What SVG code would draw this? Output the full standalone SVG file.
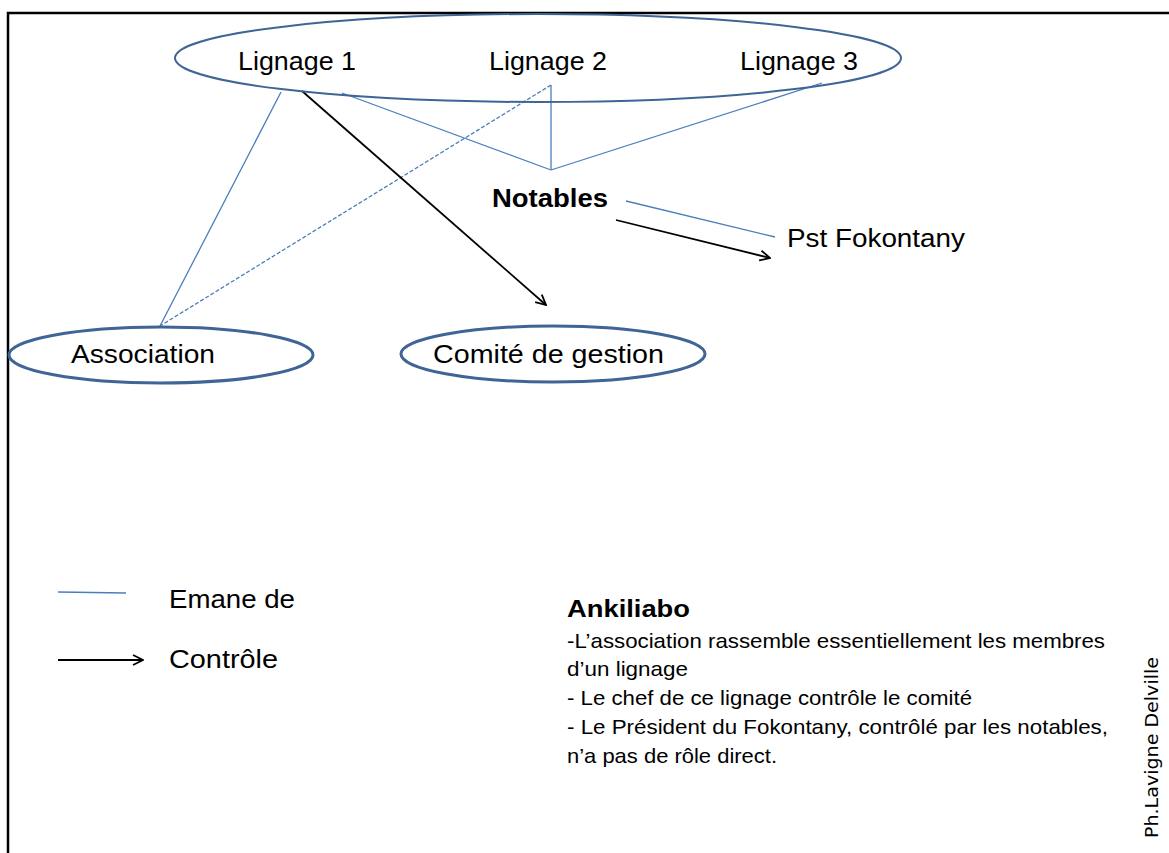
<svg xmlns="http://www.w3.org/2000/svg" width="1169" height="853" viewBox="0 0 1169 853">
  <defs>
    <style>
      .t { font-family: "Liberation Sans", Arial, sans-serif; fill: #000; }
      .lbl { font-size: 26px; }
      .bold { font-weight: bold; }
      .body { font-size: 21px; }
      .node { fill: none; stroke: #3f6596; }
      .emane { stroke: #4a7ebb; stroke-width: 1.3; fill: none; }
      .dash { stroke-dasharray: 4 2; }
      .ctrl { stroke: #000; stroke-width: 1.8; fill: none; }
    </style>
    <marker id="arr" viewBox="0 0 12 12" refX="11" refY="6" markerWidth="12" markerHeight="12" markerUnits="userSpaceOnUse" orient="auto">
      <path d="M1,1 L11,6 L1,11" fill="none" stroke="#000" stroke-width="1.8"/>
    </marker>
  </defs>
  <rect width="1169" height="853" fill="#fff"/>

  <!-- frame -->
  <path d="M8,853 V13 H1169" fill="none" stroke="#000" stroke-width="2.5"/>

  <!-- connectors -->
  <g id="connectors">
    <line class="emane" x1="281" y1="92" x2="160" y2="326"/>
    <line class="emane dash" x1="551" y1="85" x2="160" y2="326"/>
    <line class="emane" x1="551" y1="85" x2="551" y2="170"/>
    <line class="emane" x1="342" y1="93" x2="551" y2="170"/>
    <line class="emane" x1="551" y1="170" x2="822" y2="83"/>
    <line class="ctrl" x1="302" y1="91" x2="546" y2="305" marker-end="url(#arr)"/>
    <line class="emane" x1="626" y1="201" x2="775" y2="237"/>
    <line class="ctrl" x1="616" y1="220" x2="770" y2="258" marker-end="url(#arr)"/>
  </g>

  <!-- lineages -->
  <g id="lignages">
    <ellipse class="node" cx="538" cy="58" rx="363" ry="44" stroke-width="2"/>
    <text class="t lbl" x="238" y="70" textLength="118" lengthAdjust="spacingAndGlyphs">Lignage 1</text>
    <text class="t lbl" x="489" y="70" textLength="118" lengthAdjust="spacingAndGlyphs">Lignage 2</text>
    <text class="t lbl" x="740" y="70" textLength="118" lengthAdjust="spacingAndGlyphs">Lignage 3</text>
  </g>

  <g id="notables">
    <text class="t lbl bold" x="492" y="207" textLength="116" lengthAdjust="spacingAndGlyphs">Notables</text>
  </g>

  <g id="pst-fokontany">
    <text class="t lbl" x="787" y="247" textLength="178" lengthAdjust="spacingAndGlyphs">Pst Fokontany</text>
  </g>

  <g id="association">
    <ellipse class="node" cx="161" cy="355" rx="152" ry="28" stroke-width="3"/>
    <text class="t lbl" x="71" y="363" textLength="144" lengthAdjust="spacingAndGlyphs">Association</text>
  </g>

  <g id="comite">
    <ellipse class="node" cx="553" cy="354" rx="152" ry="28" stroke-width="3"/>
    <text class="t lbl" x="433" y="363" textLength="231" lengthAdjust="spacingAndGlyphs">Comité de gestion</text>
  </g>

  <!-- legend -->
  <g id="legend">
    <line class="emane" x1="58" y1="592" x2="126" y2="593"/>
    <text class="t lbl" x="169" y="608" textLength="126" lengthAdjust="spacingAndGlyphs">Emane de</text>
    <line class="ctrl" x1="58" y1="660" x2="143" y2="660" marker-end="url(#arr)"/>
    <text class="t lbl" x="169" y="668" textLength="109" lengthAdjust="spacingAndGlyphs">Contrôle</text>
  </g>

  <!-- notes -->
  <g id="notes">
    <text class="t bold" font-size="24" x="567" y="617" textLength="123" lengthAdjust="spacingAndGlyphs">Ankiliabo</text>
    <text class="t body" x="567" y="648" textLength="538" lengthAdjust="spacingAndGlyphs">-L’association rassemble essentiellement les membres</text>
    <text class="t body" x="567" y="676" textLength="121" lengthAdjust="spacingAndGlyphs">d’un lignage</text>
    <text class="t body" x="567" y="705" textLength="405" lengthAdjust="spacingAndGlyphs">- Le chef de ce lignage contrôle le comité</text>
    <text class="t body" x="567" y="734" textLength="541" lengthAdjust="spacingAndGlyphs">- Le Président du Fokontany, contrôlé par les notables,</text>
    <text class="t body" x="567" y="763" textLength="210" lengthAdjust="spacingAndGlyphs">n’a pas de rôle direct.</text>
  </g>

  <text font-family="DejaVu Sans, Verdana, sans-serif" font-size="18" fill="#000" transform="translate(1158,838) rotate(-90)" textLength="181" lengthAdjust="spacingAndGlyphs">Ph.Lavigne Delville</text>
</svg>
